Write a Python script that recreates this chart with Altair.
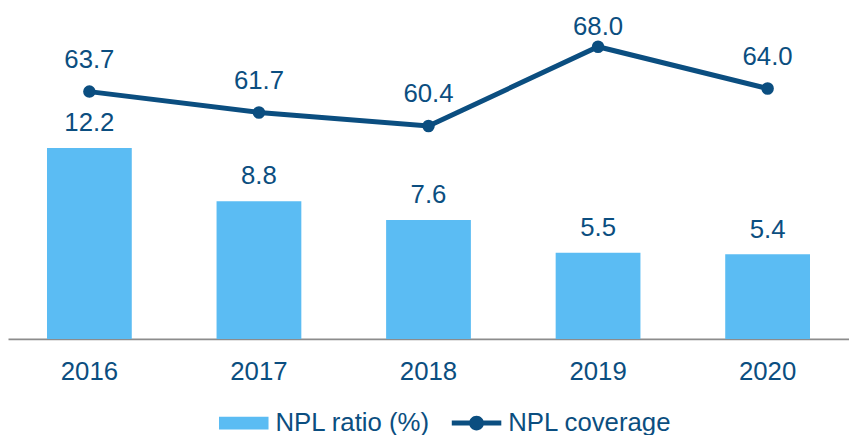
import altair as alt
import pandas as pd

years = ["2016", "2017", "2018", "2019", "2020"]
npl_ratio = [12.2, 8.8, 7.6, 5.5, 5.4]
npl_coverage = [63.7, 61.7, 60.4, 68.0, 64.0]
series_names = ["NPL ratio (%)", "NPL coverage"]

LIGHT = "#5BBCF3"
DARK = "#0B4E80"
FONT = "Liberation Sans"

df = pd.DataFrame({"year": years, "ratio": npl_ratio, "coverage": npl_coverage})
df["ratio_lbl"] = [f"{v:.1f}" for v in npl_ratio]
df["cov_lbl"] = [f"{v:.1f}" for v in npl_coverage]
leg_df = pd.DataFrame({"series": series_names})

x = alt.X(
    "year:N",
    sort=years,
    title=None,
    scale=alt.Scale(paddingInner=0.5, paddingOuter=0.23),
    axis=alt.Axis(
        labelAngle=0,
        labelFontSize=26,
        labelColor=DARK,
        labelFont=FONT,
        labelPadding=20,
        ticks=False,
        domainColor="#8C8C8C",
        domainWidth=2,
        grid=False,
    ),
)

ybar = alt.Y("ratio:Q", scale=alt.Scale(domain=[0, 20], nice=False, zero=True), axis=None)
bars = alt.Chart(df).mark_bar(color=LIGHT).encode(x=x, y=ybar)
bar_text = alt.Chart(df).mark_text(
    dy=-17, baseline="alphabetic", fontSize=26, font=FONT, color=DARK
).encode(x=x, y=ybar, text="ratio_lbl:N")

yline = alt.Y("coverage:Q", scale=alt.Scale(domain=[40, 70], nice=False, zero=False), axis=None)
line = alt.Chart(df).mark_line(color=DARK, strokeWidth=5).encode(x=x, y=yline)
pts = alt.Chart(df).mark_point(filled=True, color=DARK, size=160, opacity=1).encode(x=x, y=yline)
line_text = (
    alt.Chart(df)
    .transform_calculate(lab_y="min(datum.coverage, 66.85)")
    .mark_text(dy=-24, baseline="alphabetic", fontSize=26, font=FONT, color=DARK)
    .encode(
        x=x,
        y=alt.Y("lab_y:Q", scale=alt.Scale(domain=[40, 70], nice=False, zero=False), axis=None),
        text="cov_lbl:N",
    )
)

rect_path = "M-1,-0.26H1V0.26H-1Z"
linedot_path = "M-1,-0.1H1V0.1H-1Z M0.3,0A0.3,0.3,0,1,1,-0.3,0A0.3,0.3,0,1,1,0.3,0Z"

legend_opts = dict(
    title=None,
    orient="none",
    direction="horizontal",
    columns=2,
    legendX=213,
    legendY=376,
    labelFontSize=26,
    labelFont=FONT,
    labelColor=DARK,
    labelOffset=7,
    labelLimit=400,
    columnPadding=21,
    symbolSize=2500,
    symbolStrokeWidth=0,
    symbolOpacity=1,
)

legend_layer = (
    alt.Chart(leg_df)
    .transform_filter("false")
    .mark_point(filled=True, opacity=1)
    .encode(
        color=alt.Color(
            "series:N",
            scale=alt.Scale(domain=series_names, range=[LIGHT, DARK]),
            legend=alt.Legend(**legend_opts),
        ),
        shape=alt.Shape(
            "series:N",
            scale=alt.Scale(domain=series_names, range=[rect_path, linedot_path]),
            legend=alt.Legend(**legend_opts),
        ),
    )
)

chart = (
    alt.layer(bars, bar_text, line, pts, line_text, legend_layer)
    .resolve_scale(y="independent")
    .properties(
        width=849,
        height=316,
        autosize=alt.AutoSizeParams(type="none"),
        padding={"left": 0, "right": 0, "top": 16, "bottom": 95},
    )
    .configure(font=FONT)
    .configure_view(stroke=None, strokeWidth=0)
)

chart.save("out.html", embed_options={"renderer": "svg", "actions": False})
